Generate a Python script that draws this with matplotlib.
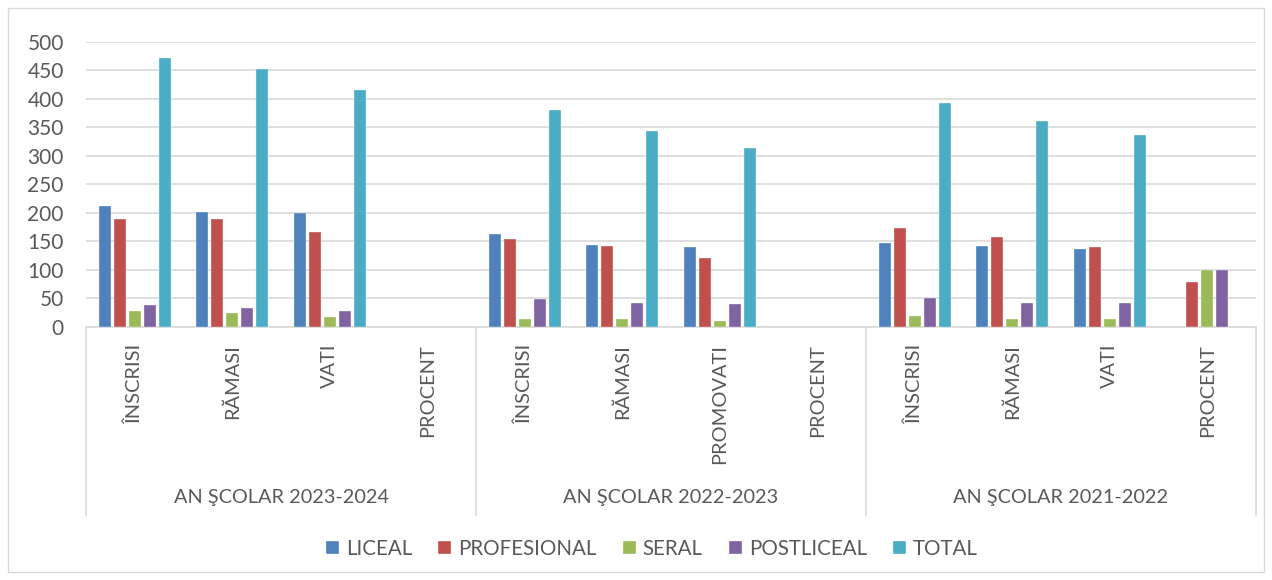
import numpy as np
import matplotlib.pyplot as plt
from matplotlib.patches import Rectangle
import matplotlib.transforms as mtransforms

plt.rcParams['font.family'] = ['Lato', 'DejaVu Sans']

# --- data ---
groups = ["AN ŞCOLAR 2023-2024", "AN ŞCOLAR 2022-2023", "AN ŞCOLAR 2021-2022"]
categories = ["ÎNSCRISI", "RĂMASI", "VATI", "PROCENT",
              "ÎNSCRISI", "RĂMASI", "PROMOVATI", "PROCENT",
              "ÎNSCRISI", "RĂMASI", "VATI", "PROCENT"]
series_names = ["LICEAL", "PROFESIONAL", "SERAL", "POSTLICEAL", "TOTAL"]
nan = np.nan
liceal = [212, 201, 199, nan, 162, 144, 140, nan, 146, 142, 136, nan]
profesional = [189, 189, 167, nan, 154, 142, 120, nan, 174, 158, 139, 79]
seral = [28, 24, 17, nan, 14, 13, 10, nan, 18, 14, 14, 99]
postliceal = [38, 33, 28, nan, 48, 42, 39, nan, 50, 42, 42, 99]
total = [472, 452, 415, nan, 381, 344, 313, nan, 392, 360, 336, nan]
colors = ["#4F81BD", "#C0504D", "#9BBB59", "#8064A2", "#4BACC6"]

series = [liceal, profesional, seral, postliceal, total]
text_color = "#595959"
grid_color = "#D9D9D9"

fig = plt.figure(figsize=(12.72, 5.8), dpi=100)
# outer chart border
fig.patches.append(Rectangle((8 / 1272, 8 / 580), 1256 / 1272, 564 / 580,
                             transform=fig.transFigure, fill=False,
                             edgecolor=grid_color, linewidth=1))

ax = fig.add_axes([86 / 1272, 253.3 / 580, 1170 / 1272, 285 / 580])
x = np.arange(len(categories))
pitch = 0.154
width = 0.126
for i, (vals, name, c) in enumerate(zip(series, series_names, colors)):
    ax.bar(x + (i - 2) * pitch, vals, width=width, color=c, label=name,
           edgecolor="white", linewidth=0.25, zorder=3)

ax.set_xlim(-0.5, len(categories) - 0.5)
ax.set_ylim(0, 500)
ax.set_yticks(np.arange(0, 501, 50))
ax.yaxis.grid(True, color=grid_color, linewidth=1.2, zorder=0)
ax.set_axisbelow(True)
for s in ["top", "right", "left"]:
    ax.spines[s].set_visible(False)
ax.spines["bottom"].set_color(grid_color)
ax.spines["bottom"].set_linewidth(1.2)
ax.tick_params(axis="y", length=0, labelsize=15, labelcolor=text_color, pad=16)
ax.set_xticks([])

# category labels and group separators below the axis
trans = mtransforms.blended_transform_factory(ax.transData, ax.transAxes)
for xi, lab in zip(x, categories):
    ax.text(xi, -0.06, lab, rotation=90, ha="center", va="top",
            fontsize=14.4, color=text_color, transform=trans)
for sep in [-0.5, 3.5, 7.5, 11.5]:
    ax.plot([sep, sep], [0, -0.66], color=grid_color, linewidth=1.2,
            transform=trans, clip_on=False)
for gi, g in enumerate(groups):
    ax.text(gi * 4 + 1.5, -0.60, g, ha="center", va="center",
            fontsize=14.3, color=text_color, transform=trans)

fig.legend(loc="center", bbox_to_anchor=(652 / 1272, 1 - 549 / 580), ncol=5,
           frameon=False, fontsize=14.8, labelcolor=text_color,
           handlelength=0.63, handleheight=0.63, handletextpad=0.34,
           columnspacing=1.27)

fig.savefig("out.png", dpi=100)
